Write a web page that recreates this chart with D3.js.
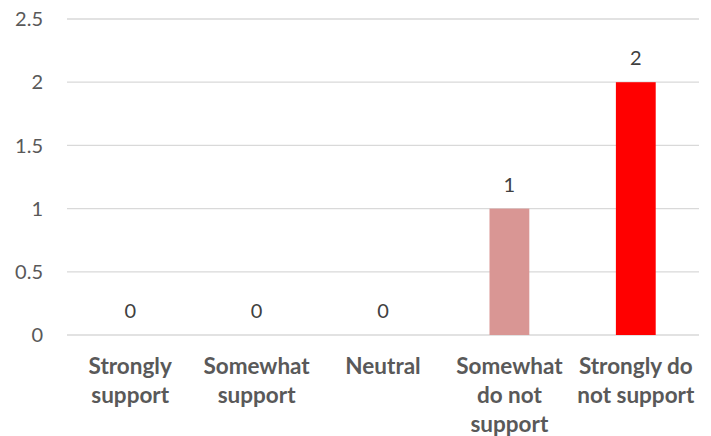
<!DOCTYPE html>
<html>
<head>
<meta charset="utf-8">
<script src="https://cdn.jsdelivr.net/npm/d3@7"></script>
<style>
  body { margin: 0; background: #fff; }
  text { font-family: Lato, "Open Sans", sans-serif; }
</style>
</head>
<body>
<div id="chart"></div>
<script>
// chart data
const categories = [
    ["Strongly", "support"],
    ["Somewhat", "support"],
    ["Neutral"],
    ["Somewhat", "do not", "support"],
    ["Strongly do", "not support"]
];
const values = [0, 0, 0, 1, 2];
const barColors = ["#4472c4", "#4472c4", "#4472c4", "#d99694", "#ff0000"];
const yTicks = [0, 0.5, 1, 1.5, 2, 2.5];

const width = 711, height = 436;
const margin = { top: 19, right: 12, bottom: 101, left: 67 };

const svg = d3.select("#chart").append("svg")
    .attr("width", width)
    .attr("height", height);

const x = d3.scaleBand()
    .domain(d3.range(categories.length))
    .range([margin.left, width - margin.right])
    .paddingInner(0.685)
    .paddingOuter(0.3425);

const y = d3.scaleLinear()
    .domain([0, 2.5])
    .range([height - margin.bottom, margin.top]);

// gridlines
svg.append("g")
    .selectAll("line")
    .data(yTicks)
    .enter().append("line")
    .attr("x1", margin.left)
    .attr("x2", width - margin.right)
    .attr("y1", d => y(d))
    .attr("y2", d => y(d))
    .attr("stroke", "#d9d9d9")
    .attr("stroke-width", 1.3);

// y tick labels
svg.append("g")
    .selectAll("text")
    .data(yTicks)
    .enter().append("text")
    .attr("x", 43)
    .attr("y", d => y(d))
    .attr("dy", "0.36em")
    .attr("text-anchor", "end")
    .attr("fill", "#595959")
    .attr("font-size", 20)
    .text(d => d);

// bars
svg.append("g")
    .selectAll("rect")
    .data(values)
    .enter().append("rect")
    .attr("x", (d, i) => x(i))
    .attr("width", x.bandwidth())
    .attr("y", d => y(d))
    .attr("height", d => y(0) - y(d))
    .attr("fill", (d, i) => barColors[i]);

// value labels
svg.append("g")
    .selectAll("text")
    .data(values)
    .enter().append("text")
    .attr("x", (d, i) => x(i) + x.bandwidth() / 2)
    .attr("y", d => y(d) - 17)
    .attr("text-anchor", "middle")
    .attr("fill", "#404040")
    .attr("font-size", 20)
    .text(d => d);

// category labels
const cat = svg.append("g")
    .selectAll("text")
    .data(categories)
    .enter().append("text")
    .attr("x", (d, i) => x(i) + x.bandwidth() / 2)
    .attr("y", 374)
    .attr("text-anchor", "middle")
    .attr("fill", "#595959")
    .attr("font-size", 22.5)
    .attr("font-weight", "bold");

cat.selectAll("tspan")
    .data(d => d)
    .enter().append("tspan")
    .attr("x", function () { return this.parentNode.getAttribute("x"); })
    .attr("dy", (d, i) => i === 0 ? 0 : 29)
    .text(d => d);
</script>
</body>
</html>
